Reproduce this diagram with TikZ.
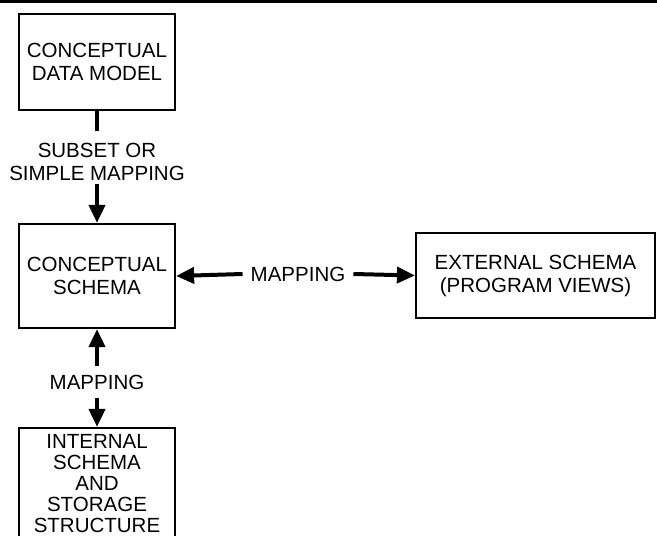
\documentclass[tikz,border=0pt]{standalone}
\usepackage{fontspec}
\setmainfont{Liberation Sans}
\usetikzlibrary{arrows.meta}
\begin{document}
\begin{tikzpicture}[x=1pt,y=1pt,
  txt/.style={font=\fontsize{20.5}{23}\selectfont},
  box/.style={txt, draw, line width=2.2pt, minimum width=156pt, align=center, inner sep=0pt},
  lbl/.style={txt, align=center, inner sep=0pt},
  conn/.style={line width=4pt},
  arr/.style={conn, -{Triangle[width=16pt,length=18pt]}},
]
\useasboundingbox (0,0) rectangle (657,-536);
\clip (0,0) rectangle (657,-536);

% heavy rule across the top
\draw[line width=3.5pt] (0,-1.5) -- (657,-1.5);

% schema boxes
\node[box, minimum height=96pt]  (cdm) at (97,-62)  {CONCEPTUAL\\DATA MODEL};
\node[box, minimum height=104pt] (cs)  at (97,-276) {CONCEPTUAL\\SCHEMA};
\node[box, minimum width=239pt, minimum height=85pt] (es) at (535.5,-275.5) {EXTERNAL SCHEMA\\(PROGRAM VIEWS)};
\node[box, minimum height=112pt, font=\fontsize{20.5}{21}\selectfont] (is) at (97,-484)
  {INTERNAL\\SCHEMA\\AND\\STORAGE\\STRUCTURE};

% data model -> conceptual schema
\node[lbl] (sub) at (97,-162) {SUBSET OR\\SIMPLE MAPPING};
\draw[conn] (cdm.south) -- ([yshift=12pt]sub.north);
\draw[arr] ([yshift=-3pt]sub.south) -- (cs.north);

% conceptual schema <-> external schema
\node[lbl, inner xsep=8pt] (mh) at (298,-274) {MAPPING};
\draw[arr] (mh.west) -- (cs.east);
\draw[arr] (mh.east) -- (es.west);

% conceptual schema <-> internal schema
\node[lbl, inner ysep=9pt] (mv) at (97,-382) {MAPPING};
\draw[arr] (mv.north) -- (cs.south);
\draw[arr] (mv.south) -- (is.north);
\end{tikzpicture}
\end{document}
